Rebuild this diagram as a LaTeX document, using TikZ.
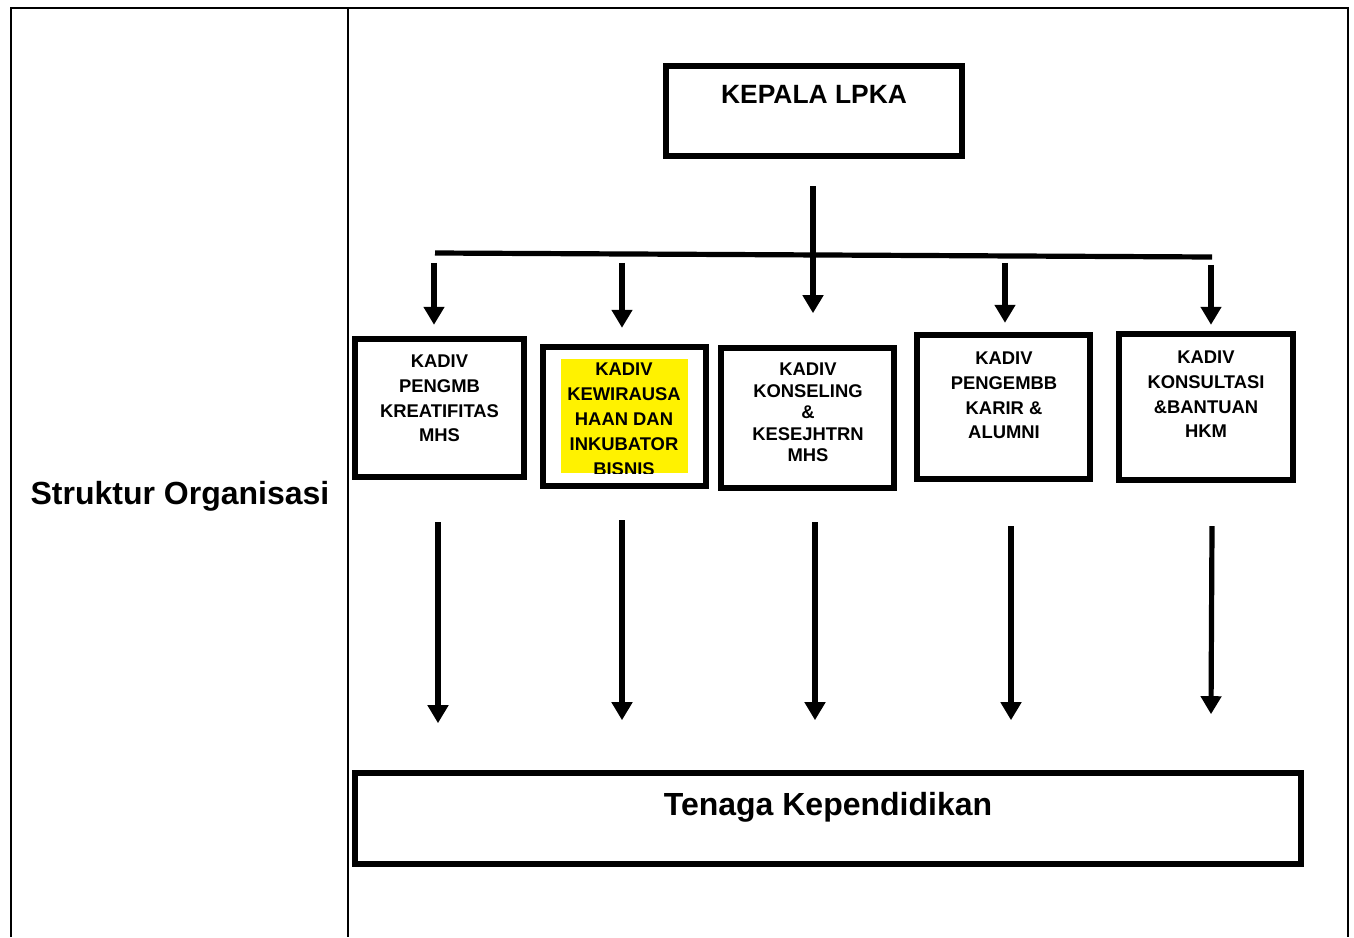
\documentclass[tikz,border=0pt]{standalone}
\usepackage{fontspec}
\setmainfont{Liberation Sans}
\usetikzlibrary{calc}
\usetikzlibrary{positioning}
\usetikzlibrary{arrows.meta}

\tikzset{
	kotak/.style={draw, line width=3.2pt, inner sep=0pt},
	teks/.style={font=\bfseries\fontsize{9.2}{12.4}\selectfont, align=center, inner sep=0pt, anchor=north},
	tabel/.style={line width=1.1pt},
	garis/.style={line width=2.6pt},
	panah/.style={line width=2.6pt, -{Triangle[width=10pt,length=9pt]}}
}

\begin{document}
\begin{tikzpicture}[x=0.5pt, y=-0.5pt]
			\useasboundingbox (0,0) rectangle (1354,937);
			\draw[tabel] (11,937) -- (11,8) -- (1348,8) -- (1348,937);
			\draw[tabel] (348,8) -- (348,937);
			\node[teks, font=\bfseries\fontsize{16}{19}\selectfont] (tstruktur) at (180,481) {Struktur Organisasi};

			\node[kotak, minimum width=148pt, minimum height=45pt] (kepala) at (814,111) {};
			\node[teks, font=\bfseries\fontsize{13.2}{16}\selectfont] (tkepala) at (814,85) {KEPALA LPKA};

			\node[kotak, minimum width=84.5pt, minimum height=69pt] (kd1) at (439.5,408) {};
			\node[kotak, minimum width=81.5pt, minimum height=69.5pt] (kd2) at (624.5,416.5) {};
			\node[kotak, minimum width=86.5pt, minimum height=70pt] (kd3) at (807.5,418) {};
			\node[kotak, minimum width=86.5pt, minimum height=72pt] (kd4) at (1003.5,407) {};
			\node[kotak, minimum width=87pt, minimum height=73pt] (kd5) at (1206,407) {};
			\node[kotak, minimum width=473pt, minimum height=45.5pt] (tenaga) at (828,818.5) {};

			\node[teks] (tk1) at (439.5,354.5) {KADIV\\PENGMB\\KREATIFITAS\\MHS};
			\begin{scope}
				\clip (561,359) rectangle (688,473);
				\fill[yellow] (561,359) rectangle (688,473);
				\node[teks, font=\bfseries\fontsize{9.2}{12.5}\selectfont] (tk2) at (624,362.5) {KADIV\\KEWIRAUSA\\HAAN DAN\\INKUBATOR\\BISNIS};
			\end{scope}
			\node[teks, font=\bfseries\fontsize{9.2}{10.75}\selectfont] (tk3) at (808,362.5) {KADIV\\KONSELING\\\&\\KESEJHTRN\\MHS};
			\node[teks] (tk4) at (1004,351.5) {KADIV\\PENGEMBB\\KARIR \&\\ALUMNI};
			\node[teks] (tk5) at (1206,350.5) {KADIV\\KONSULTASI\\\&BANTUAN\\HKM};
			\node[teks, font=\bfseries\fontsize{16}{19}\selectfont] (ttenaga) at (828,792) {Tenaga Kependidikan};

			% garis dari kepala ke palang
			\draw[panah] (kepala.south) ++(-1,27) -- ++(0,127);
			\draw[garis] (435,253) -- (1212,257);

			% panah ke tiap kadiv
			\draw[panah] (kd1.north) ++(-5.5,-73) -- ++(0,62);
			\draw[panah] (kd2.north) ++(-2.5,-81) -- ++(0,65);
			\draw[panah] (kd4.north) ++(1.5,-69) -- ++(0,60);
			\draw[panah] (kd5.north) ++(5,-66) -- ++(0,60);

			% panah ke tenaga kependidikan
			\draw[panah] (kd1.south) ++(-1.5,42) -- ++(0,201);
			\draw[panah] (kd2.south) ++(-2.5,31) -- ++(0,200);
			\draw[panah] (kd3.south) ++(7.5,31) -- ++(0,198);
			\draw[panah] (kd4.south) ++(7.5,44) -- ++(0,194);
			\draw[panah] (kd5.south) ++(6,43) -- ++(-1,188);
\end{tikzpicture}
\end{document}
